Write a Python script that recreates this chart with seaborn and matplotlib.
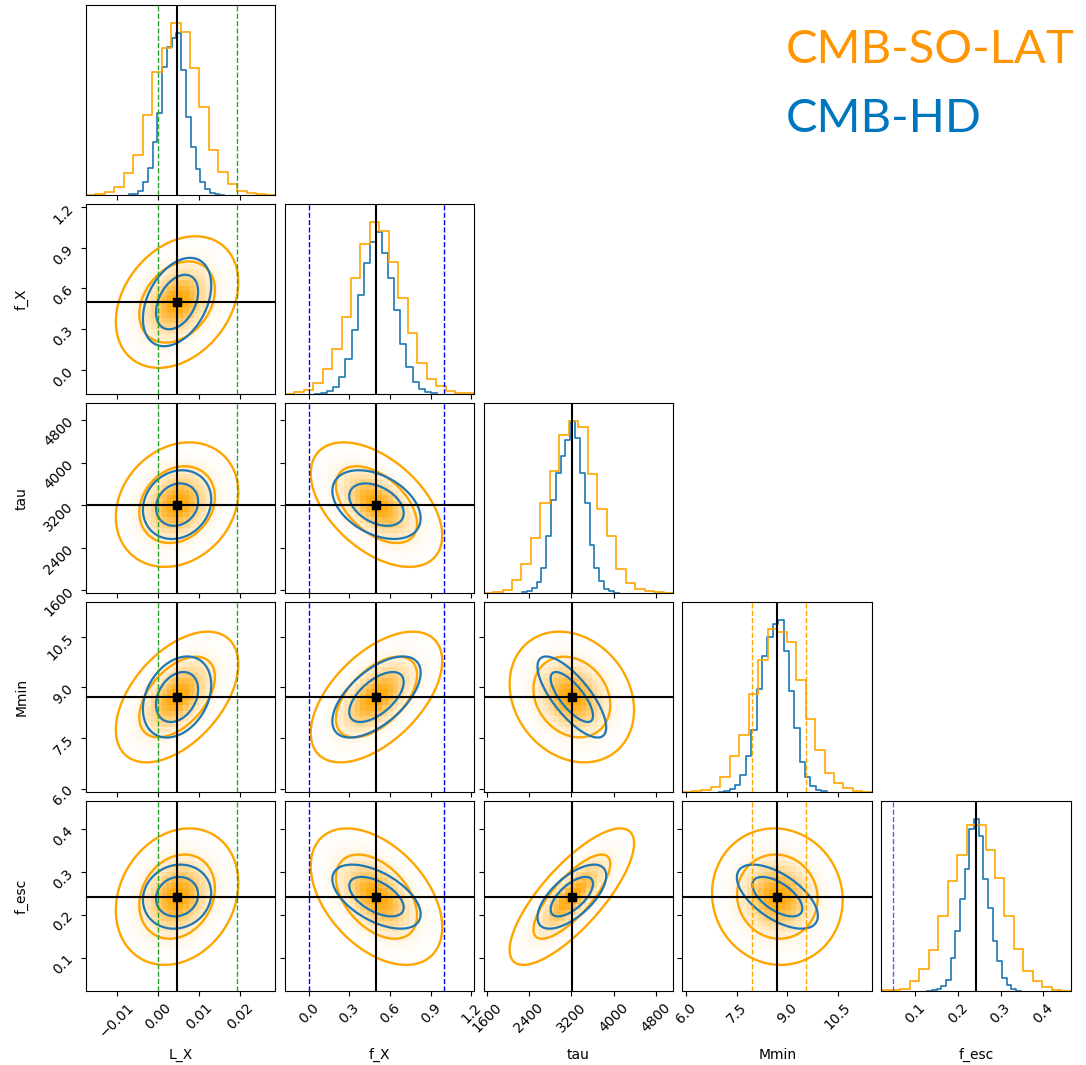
import numpy as np
import matplotlib
matplotlib.use("Agg")
import matplotlib.pyplot as plt
import seaborn as sns
from matplotlib.colors import LinearSegmentedColormap

# ---------------------------------------------------------------------------
# Parameters, true values and plotting ranges
# ---------------------------------------------------------------------------
labels = ["L_X", "f_X", "tau", "Mmin", "f_esc"]
truths = [0.0047, 0.50, 3210.0, 8.71, 0.242]
range_lo = [-0.01756, -0.177, 1543.0, 5.90, 0.022]
range_hi = [0.02863, 1.22, 5121.0, 11.51, 0.464]
tick_vals = [
    [-0.01, 0.0, 0.01, 0.02],
    [0.0, 0.3, 0.6, 0.9, 1.2],
    [1600, 2400, 3200, 4000, 4800],
    [6.0, 7.5, 9.0, 10.5],
    [0.1, 0.2, 0.3, 0.4],
]

# ---------------------------------------------------------------------------
# 1D marginal histograms (20 bins each)
# CMB-SO-LAT bins span the full plotting range, CMB-HD bins its own range
# ---------------------------------------------------------------------------
hist_solat_LX = [1, 3, 10, 25, 65, 120, 240, 370, 442, 517, 488, 380, 263, 135, 68, 32, 13, 7, 2, 1]
hist_solat_fX = [1, 5, 12, 32, 75, 134, 232, 349, 449, 517, 489, 397, 289, 182, 92, 45, 24, 8, 4, 2]
hist_solat_tau = [1, 4, 10, 38, 86, 165, 270, 365, 475, 517, 497, 357, 252, 170, 73, 30, 12, 6, 2, 1]
hist_solat_Mmin = [1, 3, 5, 16, 44, 106, 171, 291, 394, 486, 476, 448, 334, 219, 124, 56, 28, 11, 4, 1]
hist_solat_fesc = [2, 4, 6, 29, 67, 122, 224, 329, 406, 496, 496, 422, 339, 224, 127, 61, 29, 12, 3, 1]

hd_range_lo = [-0.0071, 0.046, 2269.0, 6.98, 0.129]
hd_range_hi = [0.0162, 0.946, 4093.0, 10.17, 0.347]
hist_hd_LX = [2, 4, 12, 40, 80, 160, 245, 385, 445, 470, 485, 375, 235, 145, 77, 40, 17, 7, 3, 1]
hist_hd_fX = [1, 4, 9, 22, 50, 106, 192, 297, 394, 457, 487, 422, 347, 252, 149, 82, 35, 15, 6, 2]
hist_hd_tau = [2, 5, 14, 32, 75, 170, 280, 360, 410, 460, 515, 465, 360, 270, 145, 75, 35, 12, 5, 1]
hist_hd_Mmin = [0, 2, 8, 21, 51, 106, 186, 306, 406, 461, 501, 514, 420, 300, 190, 90, 45, 18, 6, 2]
hist_hd_fesc = [1, 3, 6, 14, 32, 100, 180, 275, 365, 485, 516, 464, 334, 249, 149, 89, 39, 17, 7, 1]

hist_solat = [hist_solat_LX, hist_solat_fX, hist_solat_tau, hist_solat_Mmin, hist_solat_fesc]
hist_hd = [hist_hd_LX, hist_hd_fX, hist_hd_tau, hist_hd_Mmin, hist_hd_fesc]

# ---------------------------------------------------------------------------
# 2D posterior shapes: widths and pairwise correlations
# ---------------------------------------------------------------------------
sigma_solat = [0.0061, 0.198, 480.0, 0.79, 0.065]
sigma_hd = [0.0034, 0.133, 265.0, 0.49, 0.0305]
corr_solat = [
    [1.00, 0.30, 0.20, 0.50, 0.20],
    [0.30, 1.00, -0.50, 0.55, -0.45],
    [0.20, -0.50, 1.00, -0.20, 0.78],
    [0.50, 0.55, -0.20, 1.00, -0.05],
    [0.20, -0.45, 0.78, -0.05, 1.00],
]
corr_hd = [
    [1.00, 0.38, 0.15, 0.30, 0.10],
    [0.38, 1.00, -0.40, 0.60, -0.55],
    [0.15, -0.40, 1.00, -0.75, 0.65],
    [0.30, 0.60, -0.75, 1.00, -0.60],
    [0.10, -0.55, 0.65, -0.60, 1.00],
]
contour_mass = [0.68, 0.95]

# Prior / reference bounds drawn as dashed vertical lines
bound_vals = {0: [0.0, 0.0194], 1: [0.0, 1.0], 3: [7.97, 9.57], 4: [0.05]}
bound_colors = {0: "tab:green", 1: "blue", 3: "orange", 4: "slateblue"}

C_SOLAT = "orange"
C_HD = "#1f77b4"

n = len(labels)
fig, axes = plt.subplots(n, n, figsize=(10.86, 10.65), dpi=100)
fig.subplots_adjust(left=0.079, right=0.986, bottom=0.0695, top=0.995,
                    wspace=0.05, hspace=0.05)

# white -> orange density map, weighted towards white in the tails
dens_cmap = LinearSegmentedColormap.from_list("dens", ["white", C_SOLAT], gamma=1.8)
r2_levels = [-2.0 * np.log(1.0 - p) for p in contour_mass]


def mahal_r2(X, Y, mx, my, sx, sy, rho):
    dx = (X - mx) / sx
    dy = (Y - my) / sy
    return (dx * dx - 2.0 * rho * dx * dy + dy * dy) / (1.0 - rho * rho)


for i in range(n):
    for j in range(n):
        ax = axes[i, j]
        if j > i:
            ax.set_visible(False)
            continue

        if i == j:
            # marginal histograms
            for heights, lo, hi, col in [
                (hist_hd[i], hd_range_lo[i], hd_range_hi[i], C_HD),
                (hist_solat[i], range_lo[i], range_hi[i], C_SOLAT),
            ]:
                edges = np.linspace(lo, hi, len(heights) + 1)
                centers = 0.5 * (edges[:-1] + edges[1:])
                sns.histplot(x=centers, weights=np.asarray(heights, float),
                             bins=edges.tolist(), element="step", fill=False,
                             color=col, linewidth=1.2, ax=ax)
            ymax = 1.1 * max(max(hist_hd[i]), max(hist_solat[i]))
            ax.set_ylim(0, ymax)
            ax.set_yticks([])
            ax.axvline(truths[i], color="black", lw=1.5, zorder=5)
        else:
            # 2D panel: x = parameter j, y = parameter i
            gx = np.linspace(range_lo[j], range_hi[j], 36)
            gy = np.linspace(range_lo[i], range_hi[i], 36)
            cx = 0.5 * (gx[:-1] + gx[1:])
            cy = 0.5 * (gy[:-1] + gy[1:])
            CX, CY = np.meshgrid(cx, cy)
            dens = np.exp(-0.5 * mahal_r2(CX, CY, truths[j], truths[i],
                                          sigma_solat[j], sigma_solat[i],
                                          corr_solat[i][j]))
            sns.histplot(x=CX.ravel(), y=CY.ravel(), weights=dens.ravel(),
                         bins=(gx.tolist(), gy.tolist()), cmap=dens_cmap,
                         ax=ax, zorder=0)

            fx = np.linspace(range_lo[j], range_hi[j], 300)
            fy = np.linspace(range_lo[i], range_hi[i], 300)
            FX, FY = np.meshgrid(fx, fy)
            for sig, corr, col, lw in [(sigma_solat, corr_solat, C_SOLAT, 1.7),
                                       (sigma_hd, corr_hd, C_HD, 1.6)]:
                r2 = mahal_r2(FX, FY, truths[j], truths[i], sig[j], sig[i], corr[i][j])
                ax.contour(FX, FY, r2, levels=r2_levels, colors=col,
                           linewidths=lw, zorder=3)

            ax.axvline(truths[j], color="black", lw=1.5, zorder=5)
            ax.axhline(truths[i], color="black", lw=1.5, zorder=5)
            ax.plot(truths[j], truths[i], "s", color="black", ms=6, zorder=6)
            ax.set_ylim(range_lo[i], range_hi[i])
            ax.set_yticks(tick_vals[i])

        # dashed bounds on the column parameter
        if j in bound_vals and (j != 4 or i == j):
            for v in bound_vals[j]:
                ax.axvline(v, color=bound_colors[j], ls="--", lw=1.0, zorder=4)

        ax.set_xlim(range_lo[j], range_hi[j])
        ax.set_xticks(tick_vals[j])
        ax.set_xlabel("")
        ax.set_ylabel("")

        if i == n - 1:
            for lab in ax.get_xticklabels():
                lab.set_rotation(45)
            ax.set_xlabel(labels[j], fontsize=10)
            ax.xaxis.set_label_coords(0.5, -0.3)
        else:
            ax.set_xticklabels([])

        if j == 0 and i > 0:
            for lab in ax.get_yticklabels():
                lab.set_rotation(45)
            ax.set_ylabel(labels[i], fontsize=10)
            ax.yaxis.set_label_coords(-0.3, 0.5)
        elif i != j:
            ax.set_yticklabels([])

fig.text(786 / 1086, 1 - 63 / 1065, "CMB-SO-LAT", color="#FF9500",
         fontsize=34, family="Lato", va="baseline", ha="left")
fig.text(786 / 1086, 1 - 132 / 1065, "CMB-HD", color="#0076BE",
         fontsize=34, family="Lato", va="baseline", ha="left")

fig.savefig("out.png", dpi=100)
